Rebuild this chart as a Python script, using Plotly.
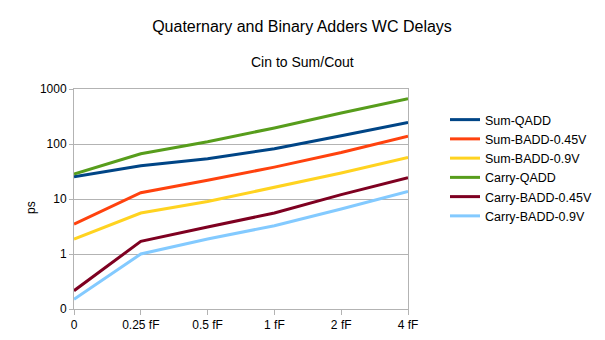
import plotly.graph_objects as go

loads = ["0", "0.25 fF", "0.5 fF", "1 fF", "2 fF", "4 fF"]

sum_qadd = [25.4, 40.3, 54, 82, 141, 247]
sum_badd_045 = [3.5, 13, 22, 38, 70, 138]
sum_badd_09 = [1.87, 5.56, 9, 16.5, 29.6, 57]
carry_qadd = [28.5, 66.6, 110, 196, 366, 667]
carry_badd_045 = [0.215, 1.7, 3.1, 5.56, 12, 24.4]
carry_badd_09 = [0.15, 1.0, 1.87, 3.27, 6.6, 13.7]

series = [
    ("Sum-QADD", sum_qadd, "#004586"),
    ("Sum-BADD-0.45V", sum_badd_045, "#ff420e"),
    ("Sum-BADD-0.9V", sum_badd_09, "#ffd320"),
    ("Carry-QADD", carry_qadd, "#579d1c"),
    ("Carry-BADD-0.45V", carry_badd_045, "#7e0021"),
    ("Carry-BADD-0.9V", carry_badd_09, "#83caff"),
]

fig = go.Figure()
for name, vals, color in series:
    fig.add_trace(
        go.Scatter(
            x=loads,
            y=vals,
            mode="lines",
            name=name,
            line=dict(color=color, width=3),
        )
    )

# the page body adds an 8px offset, so margins are pulled in by 8px
grid = "#b3b3b3"
fig.update_layout(
    width=605,
    height=340,
    paper_bgcolor="white",
    plot_bgcolor="white",
    font=dict(family="Liberation Sans, Arial, sans-serif", size=12, color="#000000"),
    margin=dict(l=66, r=205, t=81, b=39),
    title=dict(
        text="Quaternary and Binary Adders WC Delays",
        x=(302 - 8) / 605,
        xanchor="center",
        y=1 - 18 / 340,
        yanchor="middle",
        font=dict(size=16, color="#000000"),
    ),
    showlegend=True,
    legend=dict(
        x=(445 - 74) / 334,
        xanchor="left",
        y=(309 - 168) / 220,
        yanchor="middle",
        font=dict(size=12.5, color="#000000"),
        bgcolor="rgba(0,0,0,0)",
        tracegroupgap=0,
    ),
    annotations=[
        dict(
            text="Cin to Sum/Cout",
            xref="paper",
            yref="paper",
            x=(302 - 74) / 334,
            y=(309 - 62) / 220,
            xanchor="center",
            yanchor="middle",
            showarrow=False,
            font=dict(size=14, color="#000000"),
        ),
        dict(
            text="ps",
            xref="paper",
            yref="paper",
            x=0,
            xshift=-43,
            y=(309 - 208) / 220,
            xanchor="center",
            yanchor="middle",
            textangle=-90,
            showarrow=False,
            font=dict(size=12, color="#000000"),
        ),
    ],
)

fig.update_xaxes(
    type="category",
    range=[0, 5],
    showgrid=False,
    showline=True,
    linecolor=grid,
    linewidth=1,
    mirror=True,
    ticks="outside",
    ticklen=5,
    tickcolor=grid,
    tickfont=dict(size=12, color="#000000"),
    zeroline=False,
)

fig.update_yaxes(
    type="log",
    range=[-1, 3],
    tickvals=[0.1, 1, 10, 100, 1000],
    ticktext=["0", "1", "10", "100", "1000"],
    showgrid=True,
    gridcolor=grid,
    gridwidth=1,
    showline=True,
    linecolor=grid,
    linewidth=1,
    mirror=True,
    ticks="outside",
    ticklen=4,
    tickcolor=grid,
    tickfont=dict(size=12, color="#000000"),
    zeroline=False,
)

fig.write_html("out.html")
